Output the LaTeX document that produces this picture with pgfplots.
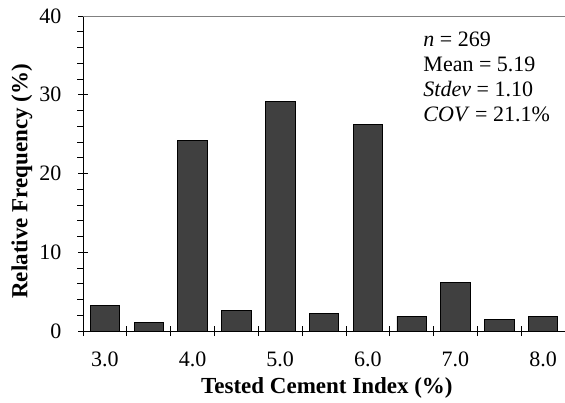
\documentclass[border=0pt]{standalone}
\usepackage{fontspec}
\setmainfont{Liberation Serif}
\usepackage{pgfplots}
\pgfplotsset{compat=1.18}
\begin{document}
\begin{tikzpicture}
\begin{axis}[
  at={(83pt,71pt)}, anchor=south west,
  scale only axis, width=482pt, height=315pt,
  xmin=2.75, xmax=8.25, ymin=0, ymax=40,
  axis x line*=bottom, axis y line*=left,
  axis line style={black, line width=0.8pt},
  /pgf/number format/assume math mode=true,
  xtick={2.75,3.25,3.75,4.25,4.75,5.25,5.75,6.25,6.75,7.25,7.75,8.25},
  xticklabels={},
  xtick align=center, ytick align=center,
  extra x ticks={3,4,5,6,7,8},
  extra x tick labels={3.0,4.0,5.0,6.0,7.0,8.0},
  extra x tick style={tick style={draw=none}, xticklabel style={yshift=-12pt}},
  major tick length=10pt,
  tick style={black, line width=0.8pt},
  ytick={0,10,20,30,40},
  minor y tick num=4,
  minor tick length=6pt,
  minor y tick style={xshift=-3pt},
  yticklabel style={xshift=-13pt},
  ticklabel style={font=\fontsize{22}{22}\selectfont},
  xlabel={\textbf{Tested Cement Index (\%)}},
  ylabel={\textbf{Relative Frequency (\%)}},
  label style={font=\fontsize{23}{23}\selectfont},
  xlabel style={at={(axis description cs:0.506,-0.182)}, anchor=center},
  ylabel style={at={(axis description cs:-0.127,0.475)}, anchor=center, rotate=0},
  clip=false,
]
\addplot[ybar, bar width=0.336, fill=black!75, draw=black, line width=0.8pt]
  coordinates {(3,3.3) (3.5,1.05) (4,24.2) (4.5,2.6) (5,29.1) (5.5,2.2) (6,26.2) (6.5,1.9) (7,6.2) (7.5,1.5) (8,1.9)};
\draw[gray, line width=0.7pt] (rel axis cs:0,1) -- (rel axis cs:1,1);
\node[anchor=north west, align=left, inner sep=0pt, font=\fontsize{22}{25}\selectfont]
  at (rel axis cs:0.706,1) [yshift=-16pt]
  {\textit{n} = 269\\Mean = 5.19\\\textit{Stdev} = 1.10\\\textit{COV} = 21.1\%};
\end{axis}
\pgfresetboundingbox
\useasboundingbox (0,0) rectangle (565pt,402pt);
\end{tikzpicture}
\end{document}
